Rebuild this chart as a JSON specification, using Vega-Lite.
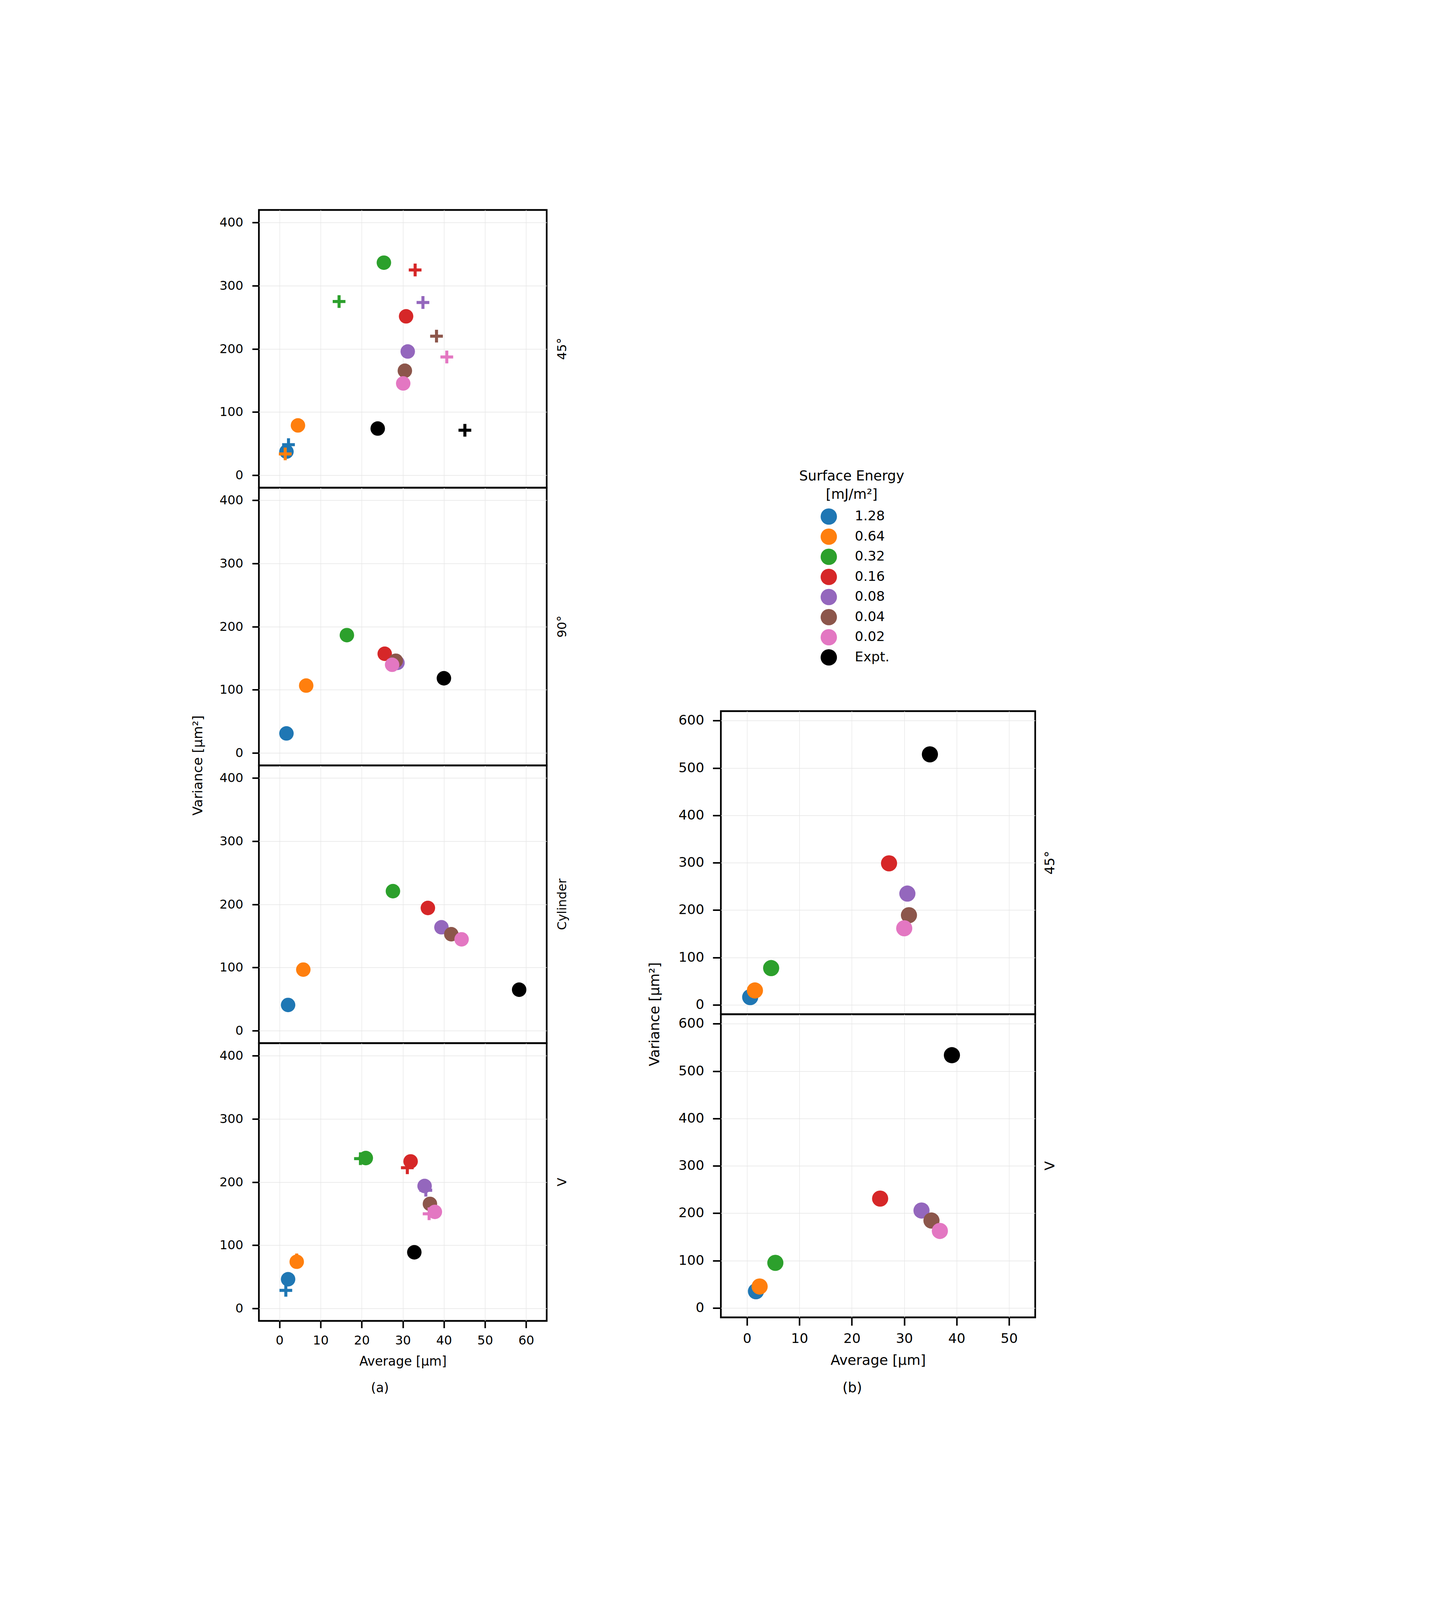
{
  "$schema": "https://vega.github.io/schema/vega-lite/v6.json",
  "padding": {"left": 490, "top": 534.5, "right": 0, "bottom": 20},
  "datasets": {
    "left": [
      {"g": "45°", "e": "1.28", "k": "model", "avg": 2.2, "var": 48.2},
      {"g": "45°", "e": "1.28", "k": "sim", "avg": 1.7, "var": 37.1},
      {"g": "45°", "e": "0.64", "k": "model", "avg": 1.4, "var": 33.5},
      {"g": "45°", "e": "0.64", "k": "sim", "avg": 4.5, "var": 78.7},
      {"g": "45°", "e": "0.32", "k": "model", "avg": 14.5, "var": 274.9},
      {"g": "45°", "e": "0.32", "k": "sim", "avg": 25.4, "var": 336.5},
      {"g": "45°", "e": "0.16", "k": "model", "avg": 33.0, "var": 324.9},
      {"g": "45°", "e": "0.16", "k": "sim", "avg": 30.8, "var": 251.5},
      {"g": "45°", "e": "0.08", "k": "model", "avg": 34.9, "var": 273.4},
      {"g": "45°", "e": "0.08", "k": "sim", "avg": 31.2, "var": 195.8},
      {"g": "45°", "e": "0.04", "k": "model", "avg": 38.2, "var": 220.1},
      {"g": "45°", "e": "0.04", "k": "sim", "avg": 30.5, "var": 165.3},
      {"g": "45°", "e": "0.02", "k": "model", "avg": 40.7, "var": 187.1},
      {"g": "45°", "e": "0.02", "k": "sim", "avg": 30.1, "var": 145.2},
      {"g": "45°", "e": "Expt.", "k": "model", "avg": 45.1, "var": 71.0},
      {"g": "45°", "e": "Expt.", "k": "sim", "avg": 23.9, "var": 73.7},
      {"g": "90°", "e": "1.28", "k": "sim", "avg": 1.7, "var": 30.7},
      {"g": "90°", "e": "0.64", "k": "sim", "avg": 6.5, "var": 106.5},
      {"g": "90°", "e": "0.32", "k": "sim", "avg": 16.4, "var": 186.4},
      {"g": "90°", "e": "0.16", "k": "sim", "avg": 25.6, "var": 156.9},
      {"g": "90°", "e": "0.08", "k": "sim", "avg": 28.7, "var": 142.5},
      {"g": "90°", "e": "0.04", "k": "sim", "avg": 28.3, "var": 145.9},
      {"g": "90°", "e": "0.02", "k": "sim", "avg": 27.4, "var": 139.5},
      {"g": "90°", "e": "Expt.", "k": "sim", "avg": 40.0, "var": 118.1},
      {"g": "Cylinder", "e": "1.28", "k": "sim", "avg": 2.1, "var": 40.5},
      {"g": "Cylinder", "e": "0.64", "k": "sim", "avg": 5.8, "var": 96.5},
      {"g": "Cylinder", "e": "0.32", "k": "sim", "avg": 27.6, "var": 220.8},
      {"g": "Cylinder", "e": "0.16", "k": "sim", "avg": 36.1, "var": 194.2},
      {"g": "Cylinder", "e": "0.08", "k": "sim", "avg": 39.4, "var": 163.6},
      {"g": "Cylinder", "e": "0.04", "k": "sim", "avg": 41.8, "var": 152.6},
      {"g": "Cylinder", "e": "0.02", "k": "sim", "avg": 44.3, "var": 144.5},
      {"g": "Cylinder", "e": "Expt.", "k": "sim", "avg": 58.3, "var": 64.7},
      {"g": "V", "e": "1.28", "k": "model", "avg": 1.55, "var": 28.4},
      {"g": "V", "e": "1.28", "k": "sim", "avg": 2.1, "var": 46.0},
      {"g": "V", "e": "0.64", "k": "model", "avg": 4.2, "var": 76.7},
      {"g": "V", "e": "0.64", "k": "sim", "avg": 4.2, "var": 73.7},
      {"g": "V", "e": "0.32", "k": "model", "avg": 19.7, "var": 237.0},
      {"g": "V", "e": "0.32", "k": "sim", "avg": 21.0, "var": 238.0},
      {"g": "V", "e": "0.16", "k": "model", "avg": 31.1, "var": 222.6},
      {"g": "V", "e": "0.16", "k": "sim", "avg": 31.9, "var": 232.7},
      {"g": "V", "e": "0.08", "k": "model", "avg": 35.6, "var": 187.0},
      {"g": "V", "e": "0.08", "k": "sim", "avg": 35.3, "var": 193.8},
      {"g": "V", "e": "0.04", "k": "sim", "avg": 36.6, "var": 165.4},
      {"g": "V", "e": "0.02", "k": "model", "avg": 36.4, "var": 149.7},
      {"g": "V", "e": "0.02", "k": "sim", "avg": 37.8, "var": 152.7},
      {"g": "V", "e": "Expt.", "k": "sim", "avg": 32.8, "var": 88.7}
    ],
    "right": [
      {"g": "45°", "e": "1.28", "k": "sim", "avg": 0.6, "var": 16.2},
      {"g": "45°", "e": "0.64", "k": "sim", "avg": 1.5, "var": 30.3},
      {"g": "45°", "e": "0.32", "k": "sim", "avg": 4.6, "var": 77.5},
      {"g": "45°", "e": "0.16", "k": "sim", "avg": 27.1, "var": 298.7},
      {"g": "45°", "e": "0.08", "k": "sim", "avg": 30.6, "var": 234.8},
      {"g": "45°", "e": "0.04", "k": "sim", "avg": 30.9, "var": 189.2},
      {"g": "45°", "e": "0.02", "k": "sim", "avg": 30.0, "var": 161.5},
      {"g": "45°", "e": "Expt.", "k": "sim", "avg": 34.9, "var": 528.8},
      {"g": "V", "e": "1.28", "k": "sim", "avg": 1.7, "var": 35.2},
      {"g": "V", "e": "0.64", "k": "sim", "avg": 2.4, "var": 45.2},
      {"g": "V", "e": "0.32", "k": "sim", "avg": 5.4, "var": 95.2},
      {"g": "V", "e": "0.16", "k": "sim", "avg": 25.4, "var": 230.8},
      {"g": "V", "e": "0.08", "k": "sim", "avg": 33.3, "var": 205.6},
      {"g": "V", "e": "0.04", "k": "sim", "avg": 35.2, "var": 184.5},
      {"g": "V", "e": "0.02", "k": "sim", "avg": 36.8, "var": 162.5},
      {"g": "V", "e": "Expt.", "k": "sim", "avg": 39.1, "var": 533.6}
    ]
  },
  "hconcat": [
    {
      "data": {"name": "left"},
      "title": {"text": "(a)", "orient": "bottom", "fontSize": 32.8, "fontWeight": "normal", "offset": 36, "anchor": "middle"},
      "spacing": 0,
      "bounds": "flush",
      "facet": {
        "row": {
          "field": "g", "type": "nominal",
          "sort": ["45°", "90°", "Cylinder", "V"],
          "header": {
            "title": "Variance [µm²]", "titleOrient": "left", "titleAngle": 270, "titleFontSize": 34.5, "titleFontWeight": "normal", "titlePadding": -8.6,
            "labelOrient": "right", "labelAngle": 270, "labelFontSize": 31.9, "labelPadding": 25
          }
        }
      },
      "spec": {
        "width": 737,
        "height": 711,
        "mark": {"type": "point", "filled": true, "opacity": 1, "size": 1374},
        "encoding": {
          "x": {
            "field": "avg", "type": "quantitative",
            "scale": {"domain": [-5, 65], "nice": false, "zero": false},
            "axis": {"title": "Average [µm]", "values": [0, 10, 20, 30, 40, 50, 60], "labelFontSize": 31.9, "titleFontSize": 32.8, "tickSize": 18.1, "labelPadding": 17.2, "titlePadding": 21.6}
          },
          "y": {
            "field": "var", "type": "quantitative",
            "scale": {"domain": [-20, 420], "nice": false, "zero": false},
            "axis": {"title": null, "values": [0, 100, 200, 300, 400], "labelFontSize": 31.9, "tickSize": 17.2, "labelPadding": 23.3}
          },
          "color": {
            "field": "e", "type": "nominal",
            "scale": {
              "domain": ["1.28", "0.64", "0.32", "0.16", "0.08", "0.04", "0.02", "Expt."],
              "range": ["#1f77b4", "#ff7f0e", "#2ca02c", "#d62728", "#9467bd", "#8c564b", "#e377c2", "#000000"]
            },
            "legend": {
              "orient": "none", "legendX": 1383, "legendY": 664,
              "title": ["Surface Energy", "[mJ/m²]"],
              "titleFontSize": 35.3, "titleFontWeight": "normal", "titleAnchor": "middle", "titleAlign": "center", "titleLimit": 700,
              "titleLineHeight": 47.4, "titlePadding": 17.2,
              "labelFontSize": 34.5, "labelOffset": 45.7,
              "symbolType": "circle", "symbolSize": 1748, "symbolOffset": 16.4, "symbolOpacity": 1, "symbolStrokeWidth": 0,
              "rowPadding": 9.5
            }
          },
          "shape": {
            "field": "k", "type": "nominal",
            "scale": {"domain": ["sim", "model"], "range": ["circle", "M-0.88,-0.21H-0.21V-0.88H0.21V-0.21H0.88V0.21H0.21V0.88H-0.21V0.21H-0.88Z"]},
            "legend": null
          }
        }
      }
    },
    {
      "spacing": 0,
      "vconcat": [
        {
          "data": {"values": [{}]},
          "width": 805,
          "height": 1280,
          "view": {"stroke": null},
          "mark": {"type": "text", "text": ""},
          "encoding": {}
        },
        {
          "data": {"name": "right"},
          "title": {"text": "(b)", "orient": "bottom", "fontSize": 35.3, "fontWeight": "normal", "offset": 36, "anchor": "middle"},
          "spacing": 0,
          "bounds": "flush",
          "facet": {
            "row": {
              "field": "g", "type": "nominal",
              "sort": ["45°", "V"],
              "header": {
                "title": "Variance [µm²]", "titleOrient": "left", "titleAngle": 270, "titleFontSize": 35.8, "titleFontWeight": "normal", "titlePadding": -4.3,
                "labelOrient": "right", "labelAngle": 270, "labelFontSize": 34.5, "labelPadding": 21.6
              }
            }
          },
          "spec": {
            "width": 805,
            "height": 776,
            "mark": {"type": "point", "filled": true, "opacity": 1, "size": 1712},
            "encoding": {
              "x": {
                "field": "avg", "type": "quantitative",
                "scale": {"domain": [-5, 55], "nice": false, "zero": false},
                "axis": {"title": "Average [µm]", "values": [0, 10, 20, 30, 40, 50], "labelFontSize": 34.5, "titleFontSize": 35.8, "tickSize": 20.7, "labelPadding": 17.2, "titlePadding": 21.6}
              },
              "y": {
                "field": "var", "type": "quantitative",
                "scale": {"domain": [-20, 620], "nice": false, "zero": false},
                "axis": {"title": null, "values": [0, 100, 200, 300, 400, 500, 600], "labelFontSize": 34.5, "tickSize": 20.7, "labelPadding": 22.4}
              },
              "color": {
                "field": "e", "type": "nominal",
                "scale": {
                  "domain": ["1.28", "0.64", "0.32", "0.16", "0.08", "0.04", "0.02", "Expt."],
                  "range": ["#1f77b4", "#ff7f0e", "#2ca02c", "#d62728", "#9467bd", "#8c564b", "#e377c2", "#000000"]
                },
                "legend": {
                  "orient": "none", "legendX": 1383, "legendY": 664,
                  "title": ["Surface Energy", "[mJ/m²]"],
                  "titleFontSize": 35.3, "titleFontWeight": "normal", "titleAnchor": "middle", "titleAlign": "center", "titleLimit": 700,
                  "titleLineHeight": 47.4, "titlePadding": 17.2,
                  "labelFontSize": 34.5, "labelOffset": 45.7,
                  "symbolType": "circle", "symbolSize": 1748, "symbolOffset": 16.4, "symbolOpacity": 1, "symbolStrokeWidth": 0,
                  "rowPadding": 9.5
                }
              },
              "shape": {
                "field": "k", "type": "nominal",
                "scale": {"domain": ["sim", "model"], "range": ["circle", "M-0.88,-0.21H-0.21V-0.88H0.21V-0.21H0.88V0.21H0.21V0.88H-0.21V0.21H-0.88Z"]},
                "legend": null
              }
            }
          }
        }
      ]
    }
  ],
  "spacing": 202,
  "config": {
    "font": "DejaVu Sans",
    "view": {"stroke": "#000000", "strokeWidth": 4.3},
    "axis": {
      "domain": false,
      "grid": true,
      "gridColor": "#e6e6e6",
      "gridWidth": 1.3,
      "ticks": true,
      "tickColor": "#000000",
      "tickWidth": 3.9,
      "labelColor": "#000000",
      "titleColor": "#000000",
      "titleFontWeight": "normal"
    },
    "header": {"labelColor": "#000000", "titleColor": "#000000"},
    "legend": {"labelColor": "#000000", "titleColor": "#000000"},
    "title": {"color": "#000000"}
  }
}
